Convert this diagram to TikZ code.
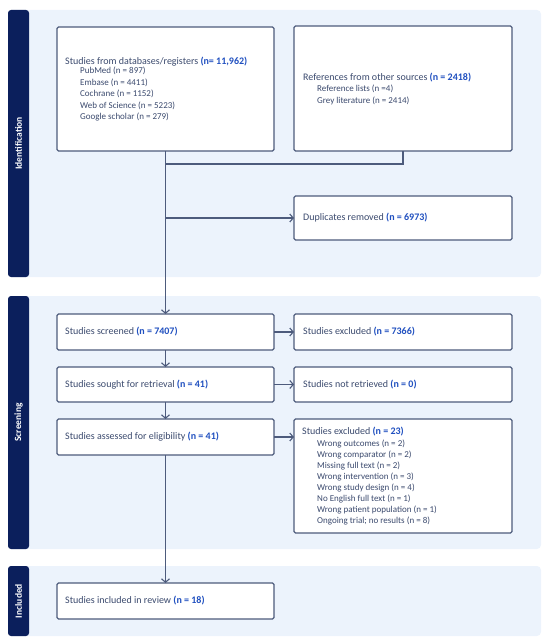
\documentclass[tikz,border=0pt]{standalone}
\usepackage{fontspec}
\setmainfont{Carlito}
\usetikzlibrary{arrows.meta}
\definecolor{barc}{HTML}{0B1F5C}
\definecolor{panelc}{HTML}{ECF3FC}
\definecolor{edgec}{HTML}{4D5B7C}
\definecolor{txtc}{HTML}{3B4A6E}
\definecolor{numc}{HTML}{2050C0}
\newcommand{\nn}[1]{\textcolor{numc}{\textbf{#1}}}
\tikzset{
  x=1pt, y=-1pt,
  panelbg/.style={fill=panelc, rounded corners=4pt},
  barbg/.style={fill=barc, rounded corners=3pt},
  fbox/.style={draw=edgec, line width=1.1pt, fill=white, rounded corners=1.5pt, inner sep=0pt, outer sep=0pt, anchor=north west},
  lbl/.style={text=txtc, font=\fontsize{10}{12}\selectfont, inner sep=0pt, anchor=west},
  sublbl/.style={text=txtc, font=\fontsize{9}{11}\selectfont, inner sep=0pt, anchor=west},
  flow/.style={draw=edgec, line width=1.1pt},
  arr/.style={flow, -{Straight Barb[length=3.5pt,width=8pt]}},
  barlbl/.style={text=white, font=\bfseries\fontsize{9.5}{11}\selectfont, rotate=90, inner sep=0pt}
}
\begin{document}
\begin{tikzpicture}
\useasboundingbox (0,0) rectangle (550,642);
% panels
\fill[panelbg] (8,10) rectangle (541,277);
\fill[panelbg] (8,296) rectangle (541,549);
\fill[panelbg] (8,566) rectangle (541,636);
\fill[barbg] (8,10) rectangle (29,277);
\fill[barbg] (8,296) rectangle (29,549);
\fill[barbg] (8,566) rectangle (29,636);
\node[barlbl] (lid) at (18.5,143.5) {Identification};
\node[barlbl] (lsc) at (18.5,422.5) {Screening};
\node[barlbl] (lin) at (18.5,601) {Included};
% boxes
\node[fbox, minimum width=217pt, minimum height=124pt] (db) at (57,27) {};
\node[fbox, minimum width=218pt, minimum height=125pt] (ref) at (294,26) {};
\node[fbox, minimum width=218pt, minimum height=44pt] (dup) at (294,196) {};
\node[fbox, minimum width=217pt, minimum height=36pt] (scr) at (57,314) {};
\node[fbox, minimum width=218pt, minimum height=36pt] (exc) at (294,314) {};
\node[fbox, minimum width=217pt, minimum height=35pt] (ret) at (57,367) {};
\node[fbox, minimum width=218pt, minimum height=35pt] (nret) at (294,367) {};
\node[fbox, minimum width=217pt, minimum height=36pt] (elig) at (57,419) {};
\node[fbox, minimum width=218pt, minimum height=114pt] (exc2) at (294,419) {};
\node[fbox, minimum width=217pt, minimum height=36pt] (inc) at (57,583) {};
% texts
\node[lbl] (tdb) at (65,62) {Studies from databases/registers \nn{(n= 11,962)}};
\node[sublbl] (t1) at (80,71) {PubMed (n = 897)};
\node[sublbl] (t2) at (80,82.6) {Embase (n = 4411)};
\node[sublbl] (t3) at (80,94.2) {Cochrane (n = 1152)};
\node[sublbl] (t4) at (80,105.8) {Web of Science (n = 5223)};
\node[sublbl] (t5) at (80,117.4) {Google scholar (n = 279)};
\node[lbl] (tref) at (303,78) {References from other sources \nn{(n = 2418)}};
\node[sublbl] (r1) at (317,89.3) {Reference lists (n =4)};
\node[sublbl] (r2) at (317,100.5) {Grey literature (n = 2414)};
\node[lbl] (tdup) at (303,218) {Duplicates removed \nn{(n = 6973)}};
\node[lbl] (tscr) at (65,332) {Studies screened \nn{(n = 7407)}};
\node[lbl] (texc) at (303,332) {Studies excluded \nn{(n = 7366)}};
\node[lbl] (tret) at (65,384.5) {Studies sought for retrieval \nn{(n = 41)}};
\node[lbl] (tnret) at (303,384.5) {Studies not retrieved \nn{(n = 0)}};
\node[lbl] (telig) at (65,437) {Studies assessed for eligibility \nn{(n = 41)}};
\node[lbl] (texc2) at (302,432) {Studies excluded \nn{(n = 23)}};
\node[sublbl] (e1) at (317,444) {Wrong outcomes (n = 2)};
\node[sublbl] (e2) at (317,455) {Wrong comparator (n = 2)};
\node[sublbl] (e3) at (317,466) {Missing full text (n = 2)};
\node[sublbl] (e4) at (317,477) {Wrong intervention (n = 3)};
\node[sublbl] (e5) at (317,488) {Wrong study design (n = 4)};
\node[sublbl] (e6) at (317,499) {No English full text (n = 1)};
\node[sublbl] (e7) at (317,510) {Wrong patient population (n = 1)};
\node[sublbl] (e8) at (317,521) {Ongoing trial; no results (n = 8)};
\node[lbl] (tinc) at (65,601) {Studies included in review \nn{(n = 18)}};
% connectors
\coordinate (j2) at (165.5,164);
\draw[flow] (ref.south) |- (j2);
\draw[arr] (db.south) -- (scr.north);
\draw[arr] (dup.west -| db.south) -- (dup.west);
\draw[arr] (scr.south) -- (ret.north);
\draw[arr] (ret.south) -- (elig.north);
\draw[arr] (elig.south) -- (inc.north);
\draw[arr] (scr.east) -- (exc.west);
\draw[arr] (ret.east) -- (nret.west);
\draw[arr] (elig.east) -- (elig.east -| exc2.west);
\end{tikzpicture}
\end{document}
